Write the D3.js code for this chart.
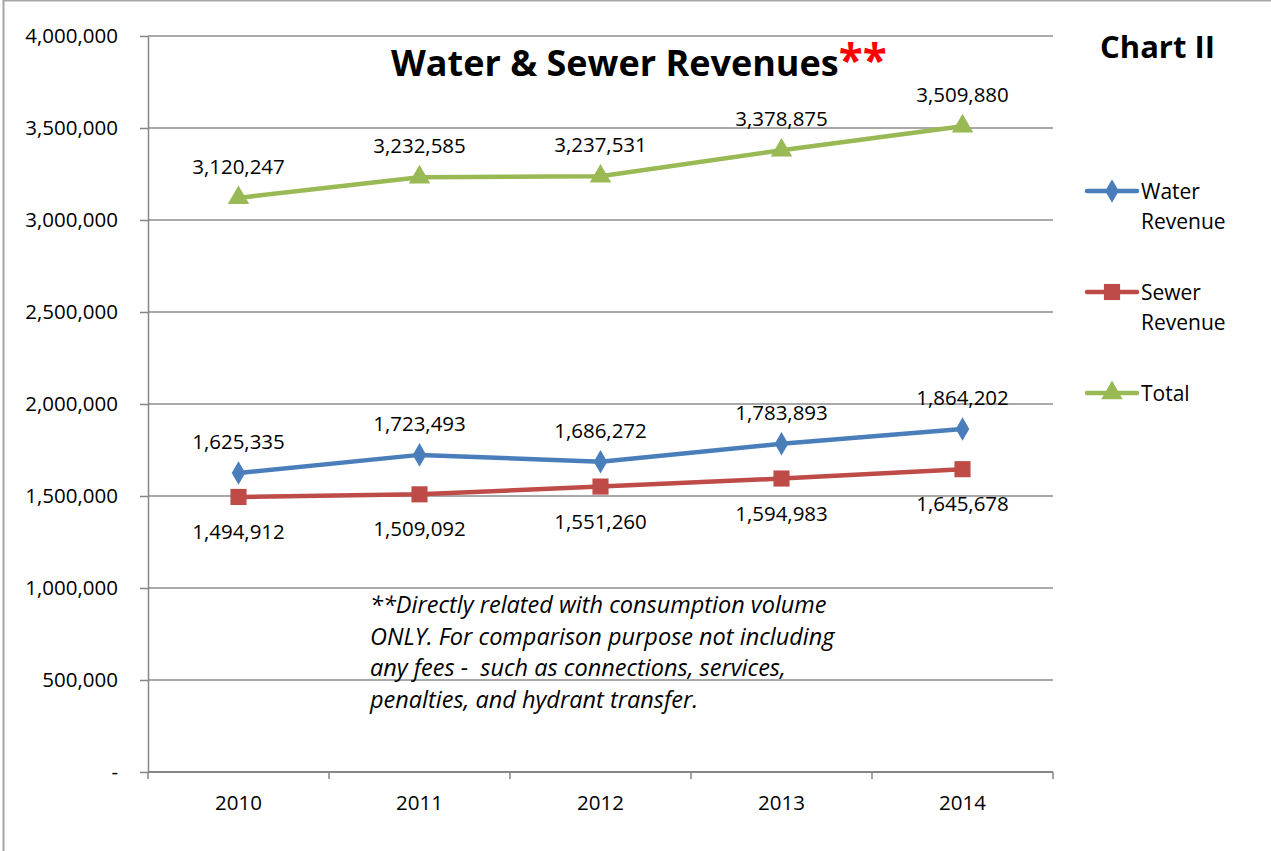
<!DOCTYPE html>
<html>
<head>
<meta charset="utf-8">
<script src="https://cdn.jsdelivr.net/npm/d3@7"></script>
<style>
  body { margin: 0; background: #fff; }
  svg { font-family: "Open Sans", Calibri, sans-serif; }
</style>
</head>
<body>
<svg id="chart" width="1271" height="851"></svg>
<script>
// Dữ liệu
const years = ["2010", "2011", "2012", "2013", "2014"];
const water = [1625335, 1723493, 1686272, 1783893, 1864202];
const sewer = [1494912, 1509092, 1551260, 1594983, 1645678];
const total = [3120247, 3232585, 3237531, 3378875, 3509880];
const yTicks = [0, 500000, 1000000, 1500000, 2000000, 2500000, 3000000, 3500000, 4000000];
const noteLines = [
    "**Directly related with consumption volume",
    "ONLY. For comparison purpose not including",
    "any fees -  such as connections, services,",
    "penalties, and hydrant transfer."
];

const series = [
    { name: ["Water", "Revenue"], values: water, color: "#4a7ebb", marker: "diamond", labelPos: "above" },
    { name: ["Sewer", "Revenue"], values: sewer, color: "#be4b48", marker: "square", labelPos: "below" },
    { name: ["Total"], values: total, color: "#98b954", marker: "triangle", labelPos: "above" }
];

const svg = d3.select("#chart");
const margin = { top: 36, right: 218, bottom: 79, left: 148 };
const width = 1271 - margin.left - margin.right;
const height = 851 - margin.top - margin.bottom;

// Khung ngoài
svg.append("rect")
    .attr("x", 3.5).attr("y", 0.5)
    .attr("width", 1280).attr("height", 900)
    .attr("fill", "none")
    .attr("stroke", "#a6a6a6")
    .attr("stroke-width", 2);

const chart = svg.append("g")
    .attr("transform", `translate(${margin.left},${margin.top})`);

const x = d3.scaleBand().domain(years).range([0, width]);
const y = d3.scaleLinear().domain([0, 4000000]).range([height, 0]);
const cx = d => x(d) + x.bandwidth() / 2;

// Lưới ngang
chart.selectAll(".grid")
    .data(yTicks.slice(1))
    .enter()
    .append("line")
    .attr("x1", 0).attr("x2", width)
    .attr("y1", d => y(d)).attr("y2", d => y(d))
    .attr("stroke", "#8c8c8c")
    .attr("stroke-width", 1.3);

// Trục Y
const fmt = d3.format(",");
const yAxis = chart.append("g")
    .call(d3.axisLeft(y).tickValues(yTicks).tickSize(8).tickSizeOuter(0)
        .tickFormat(d => d === 0 ? "-" : fmt(d)));
yAxis.select(".domain").attr("stroke", "#868686").attr("stroke-width", 1.5);
yAxis.selectAll(".tick line").attr("stroke", "#868686").attr("stroke-width", 1.5);
yAxis.selectAll(".tick text")
    .attr("x", -30)
    .attr("fill", "#000")
    .style("font-size", "20.5px")
    .style("font-family", "'Open Sans', Calibri, sans-serif");

// Trục X
chart.append("line")
    .attr("x1", 0).attr("x2", width)
    .attr("y1", height).attr("y2", height)
    .attr("stroke", "#868686").attr("stroke-width", 2);
const edges = years.map(d => x(d)).concat([width]);
chart.selectAll(".xtick")
    .data(edges)
    .enter()
    .append("line")
    .attr("x1", d => d).attr("x2", d => d)
    .attr("y1", height).attr("y2", height + 7)
    .attr("stroke", "#868686").attr("stroke-width", 1.5);
chart.selectAll(".xlabel")
    .data(years)
    .enter()
    .append("text")
    .attr("x", d => cx(d))
    .attr("y", height + 38)
    .attr("text-anchor", "middle")
    .style("font-size", "20.5px")
    .text(d => d);

// Đường và điểm
const line = d3.line().x((d, i) => cx(years[i])).y(d => y(d));
const symbolOf = {
    diamond: d3.symbol().type(d3.symbolDiamond).size(160),
    square: d3.symbol().type(d3.symbolSquare).size(260),
    triangle: d3.symbol().type(d3.symbolTriangle).size(200)
};

series.forEach(s => {
    chart.append("path")
        .datum(s.values)
        .attr("fill", "none")
        .attr("stroke", s.color)
        .attr("stroke-width", 4.5)
        .attr("stroke-linejoin", "round")
        .attr("d", line);

    chart.selectAll(null)
        .data(s.values)
        .enter()
        .append("path")
        .attr("transform", (d, i) => `translate(${cx(years[i])},${y(d)})`)
        .attr("fill", s.color)
        .attr("d", symbolOf[s.marker]());

    chart.selectAll(null)
        .data(s.values)
        .enter()
        .append("text")
        .attr("x", (d, i) => cx(years[i]))
        .attr("y", d => s.labelPos === "above" ? y(d) - 24 : y(d) + 42)
        .attr("text-anchor", "middle")
        .style("font-size", "20.5px")
        .text(d => fmt(d));
});

// Tiêu đề
const title = svg.append("text")
    .attr("x", 391)
    .attr("y", 76)
    .style("font-size", "36px")
    .style("font-weight", "bold");
title.append("tspan").text("Water & Sewer Revenues");
title.append("tspan").attr("fill", "#ff0000").style("font-size", "44px").text("**");

svg.append("text")
    .attr("x", 1100)
    .attr("y", 58)
    .style("font-size", "31px")
    .style("font-weight", "bold")
    .text("Chart II");

// Ghi chú
const note = svg.append("text")
    .attr("x", 370)
    .style("font-size", "23.5px")
    .style("font-style", "italic");
note.selectAll("tspan")
    .data(noteLines)
    .enter()
    .append("tspan")
    .attr("x", 370)
    .attr("y", (d, i) => 613 + i * 31.5)
    .attr("xml:space", "preserve")
    .style("white-space", "pre")
    .text(d => d);

// Chú thích
const legend = svg.append("g");
series.forEach((s, i) => {
    const ly = 191 + i * 101;
    const g = legend.append("g").attr("transform", `translate(1087,${ly})`);
    g.append("line")
        .attr("x1", 0).attr("x2", 50)
        .attr("stroke", s.color).attr("stroke-width", 4.5)
        .attr("stroke-linecap", "round");
    g.append("path")
        .attr("transform", "translate(25,0)")
        .attr("fill", s.color)
        .attr("d", symbolOf[s.marker]());
    const t = g.append("text").style("font-size", "21px");
    t.selectAll("tspan")
        .data(s.name)
        .enter()
        .append("tspan")
        .attr("x", 54)
        .attr("y", (d, j) => 8 + j * 30)
        .text(d => d);
});
</script>
</body>
</html>
